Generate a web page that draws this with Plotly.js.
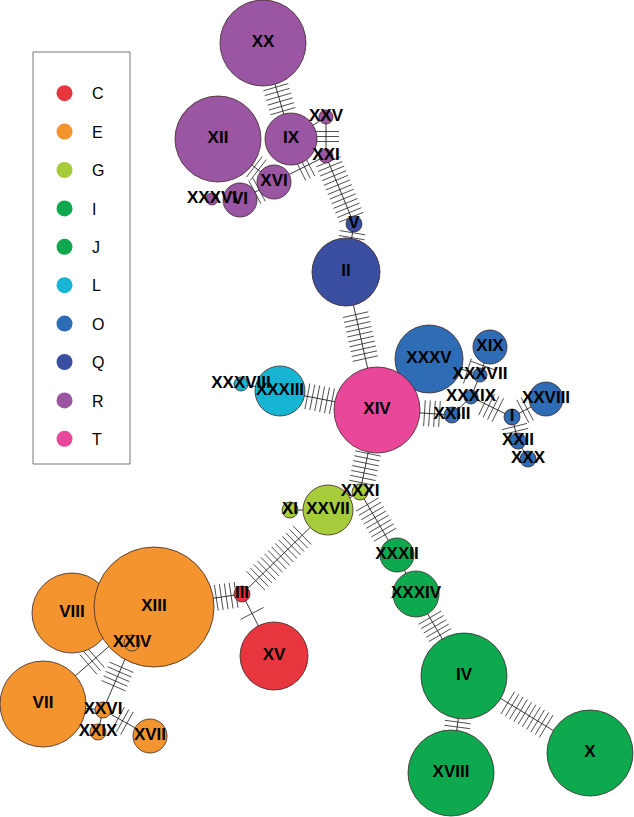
<!DOCTYPE html>
<html>
<head>
<meta charset="utf-8">
<script src="https://cdn.plot.ly/plotly-3.0.1.min.js"></script>
<style>html,body{margin:0;padding:0;background:#fff}#chart{width:634px;height:817px}</style>
</head>
<body>
<div id="chart"></div>
<script>
// ---- data ----
const groups = ['C','E','G','I','J','L','O','Q','R','T'];
const groupColors = ['#E8363E','#F4942E','#A6CC3B','#0EA84F','#0EA84F','#17B5D4','#2F6CB6','#3B4FA1','#9A56A2','#E9479A'];

const haplotypes = ['I','II','III','IV','V','VI','VII','VIII','IX','X',
  'XI','XII','XIII','XIV','XV','XVI','XVII','XVIII','XIX','XX',
  'XXI','XXII','XXIII','XXIV','XXV','XXVI','XXVII','XXVIII','XXIX','XXX',
  'XXXI','XXXII','XXXIII','XXXIV','XXXV','XXXVI','XXXVII','XXXVIII','XXXIX'];
const hapGroup = ['O','Q','C','I','Q','R','E','E','R','I',
  'G','R','E','T','C','R','E','I','O','R',
  'R','O','O','E','R','E','G','O','E','O',
  'G','J','L','J','O','R','O','L','O'];
const hapX = [512,346,242,464,354,240,43,72,291,590,
  290,218,154,377,274,274,150,451,490,263,
  326,518,452,132,326,103,328,546,98,528,
  360,397,280,416,429,212,480,241,471];
const hapY = [417,272,594,676,224,200,704,613,139,753,
  510,139,607,410,656,182,736,773,347,43,
  156,441,415,643,117,710,510,399,732,459,
  492,555,391,594,359,199,375,384,397];
const hapRadius = [8,34,8,43,8,17,43,40,26,43,
  8,43,60,43,34,17,17,43,17,43,
  7,8,8,8,7,8,25,17,8,8,
  8,17,25,23,34,6,7,7,7];

// network links: from, to, number of mutation steps
const linkFrom = ['XX','IX','XXV','XXI','V','II','XVI','XII','VI','XIV','XIV','XXXIII','XIV','XXIII','XXXIX','XXXVII','XXXVII','XXXIX','I','I','XXII','XIV','XXXI','XXVII','XXXI','XXXII','XXXIV','IV','IV','XXVII','III','III','XIII','XIII','XXIV','VII','XXVI','XXVI','VII'];
const linkTo   = ['IX','XXV','XXI','V','II','XIV','XXI','XVI','XVI','XXXV','XXXIII','XXXVIII','XXIII','XXXIX','XXXVII','XXXV','XIX','I','XXVIII','XXII','XXX','XXXI','XXVII','XI','XXXII','XXXIV','IV','X','XVIII','III','XV','XIII','VIII','XXIV','XXVI','XIII','XXIX','XVII','XXVI'];
const linkSteps= [6,0,3,13,2,10,3,2,2,0,6,0,4,0,0,1,1,4,2,2,0,7,0,0,8,0,5,10,2,14,1,6,0,0,5,3,0,3,0];

// ---- build traces ----
const idx = {};
haplotypes.forEach((h,i)=>idx[h]=i);

const ex=[], ey=[], hx=[], hy=[];
const HATCH = 13, GAP = 5;
for (let k=0;k<linkFrom.length;k++){
  const a = idx[linkFrom[k]], b = idx[linkTo[k]];
  const x0=hapX[a], y0=hapY[a], x1=hapX[b], y1=hapY[b];
  ex.push(x0,x1,null); ey.push(y0,y1,null);
  const d = Math.hypot(x1-x0,y1-y0);
  const ux=(x1-x0)/d, uy=(y1-y0)/d, nx=-uy, ny=ux;
  const mid = (hapRadius[a] + d - hapRadius[b])/2;
  const m = linkSteps[k];
  for (let j=0;j<m;j++){
    const t = mid + (j-(m-1)/2)*GAP;
    const px = x0+ux*t, py = y0+uy*t;
    hx.push(px-nx*HATCH, px+nx*HATCH, null);
    hy.push(py-ny*HATCH, py+ny*HATCH, null);
  }
}

const traces = [];
traces.push({type:'scatter',mode:'lines',x:ex,y:ey,line:{color:'#222',width:0.9},hoverinfo:'skip',showlegend:false});
traces.push({type:'scatter',mode:'lines',x:hx,y:hy,line:{color:'#222',width:0.8},hoverinfo:'skip',showlegend:false});

groups.forEach((g,gi)=>{
  const sel = haplotypes.map((h,i)=>i).filter(i=>hapGroup[i]===g);
  traces.push({type:'scatter',mode:'markers',
    x: sel.map(i=>hapX[i]), y: sel.map(i=>hapY[i]),
    text: sel.map(i=>haplotypes[i]),
    marker:{size: sel.map(i=>2*hapRadius[i]), color: groupColors[gi], opacity:1,
            line:{color:'#3a2626', width:0.8}},
    hoverinfo:'text', showlegend:false});
});
// labels on top
traces.push({type:'scatter',mode:'text',x:hapX,y:hapY,text:haplotypes,
  textposition:'middle center',
  textfont:{family:'Liberation Sans, Arial, sans-serif',size:17,weight:'bold',color:'#000'},
  hoverinfo:'skip',showlegend:false});
// legend entries
groups.forEach((g,gi)=>{
  traces.push({type:'scatter',mode:'markers',x:[null],y:[null],name:g,legendgroup:g,
    marker:{size:17,color:groupColors[gi],line:{width:0}},showlegend:true,hoverinfo:'skip'});
});

const layout = {
  width:634, height:817,
  margin:{l:0,r:0,t:0,b:0},
  paper_bgcolor:'#fff', plot_bgcolor:'#fff',
  xaxis:{range:[0,634],visible:false,fixedrange:true},
  yaxis:{range:[817,0],visible:false,fixedrange:true},
  showlegend:true,
  legend:{x:0.0584,y:0.9066,xanchor:'left',yanchor:'top',
    font:{family:'Liberation Sans, Arial, sans-serif',size:16,color:'#000'},
    bgcolor:'rgba(0,0,0,0)',borderwidth:0,tracegroupgap:14.6,itemwidth:45,itemsizing:'trace'},
  shapes:[{type:'rect',xref:'x',yref:'y',x0:33,x1:130,y0:52,y1:464,
    line:{color:'#777',width:1},fillcolor:'rgba(0,0,0,0)'}]
};

Plotly.newPlot('chart',traces,layout,{displayModeBar:false,staticPlot:true});
</script>
</body>
</html>
